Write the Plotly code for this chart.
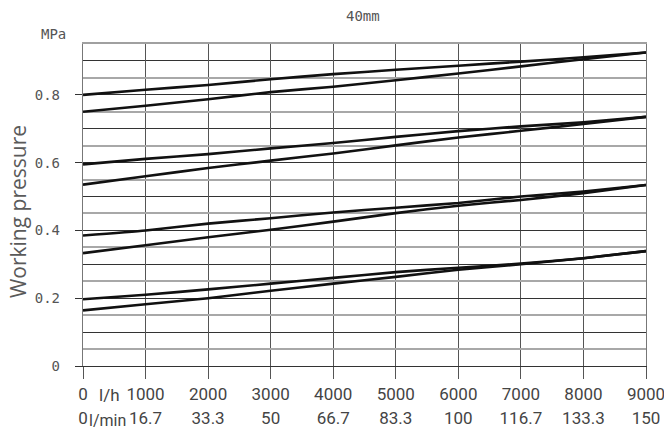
import plotly.graph_objects as go

# ---- data ----
flow_lh = [0, 1000, 2000, 3000, 4000, 5000, 6000, 7000, 8000, 9000]
flow_lh_text = ["0", "1000", "2000", "3000", "4000", "5000", "6000", "7000", "8000", "9000"]
flow_lmin_text = ["0", "16.7", "33.3", "50", "66.7", "83.3", "100", "116.7", "133.3", "150"]

p1_upper = [0.800, 0.815, 0.829, 0.846, 0.861, 0.874, 0.886, 0.898, 0.911, 0.925]
p1_lower = [0.750, 0.768, 0.787, 0.808, 0.824, 0.843, 0.863, 0.884, 0.905, 0.925]
p2_upper = [0.595, 0.611, 0.625, 0.642, 0.658, 0.676, 0.693, 0.707, 0.719, 0.735]
p2_lower = [0.535, 0.560, 0.584, 0.606, 0.627, 0.651, 0.674, 0.694, 0.714, 0.735]
p3_upper = [0.385, 0.400, 0.420, 0.436, 0.453, 0.467, 0.481, 0.500, 0.515, 0.534]
p3_lower = [0.333, 0.356, 0.380, 0.402, 0.426, 0.451, 0.473, 0.490, 0.510, 0.534]
p4_upper = [0.197, 0.210, 0.226, 0.243, 0.260, 0.277, 0.290, 0.302, 0.318, 0.339]
p4_lower = [0.164, 0.182, 0.200, 0.222, 0.243, 0.263, 0.284, 0.300, 0.318, 0.339]

y_major = [0, 0.2, 0.4, 0.6, 0.8]
y_major_text = ["0", "0.2", "0.4", "0.6", "0.8"]
y_half = [0.05, 0.15, 0.25, 0.35, 0.45, 0.55, 0.65, 0.75, 0.85]

series = [p1_upper, p1_lower, p2_upper, p2_lower, p3_upper, p3_lower, p4_upper, p4_lower]

fig = go.Figure()

# invisible traces to activate the overlay axes (half-step grid, top border, second label row)
fig.add_trace(go.Scatter(x=[0], y=[0], yaxis="y2", mode="markers",
                         marker=dict(opacity=0), showlegend=False, hoverinfo="skip"))
fig.add_trace(go.Scatter(x=[0], y=[0], xaxis="x2", mode="markers",
                         marker=dict(opacity=0), showlegend=False, hoverinfo="skip"))
fig.add_trace(go.Scatter(x=[0], y=[0], xaxis="x3", mode="markers",
                         marker=dict(opacity=0), showlegend=False, hoverinfo="skip"))

for s in series:
    fig.add_trace(go.Scatter(x=flow_lh, y=s, mode="lines",
                             line=dict(color="#111111", width=2.6, shape="spline", smoothing=0.5),
                             showlegend=False, hoverinfo="skip"))

label_font = dict(family="Roboto", size=17, color="#444444")
mono_font = dict(family="DejaVu Sans Mono", size=14, color="#555555")

fig.update_layout(
    width=664, height=430,
    margin=dict(l=83, r=18, t=44, b=64),
    paper_bgcolor="white", plot_bgcolor="white",
    xaxis=dict(range=[0, 9000], tickvals=flow_lh, ticktext=flow_lh_text,
               showgrid=True, gridcolor="#555555", gridwidth=1.3,
               ticks="outside", ticklen=12, tickcolor="#555555", tickwidth=1.3,
               tickfont=label_font, zeroline=False,
               showline=True, linecolor="#333333", linewidth=1.2,
               automargin=False, ticklabeloverflow="allow"),
    xaxis2=dict(range=[0, 9000], overlaying="x", side="top", showgrid=False,
                showticklabels=False, ticks="", zeroline=False,
                showline=True, linecolor="#a0a0a0", linewidth=2, automargin=False),
    xaxis3=dict(range=[0, 9000], overlaying="x", side="bottom", showgrid=False,
                tickvals=flow_lh, ticktext=flow_lmin_text, ticks="outside", ticklen=12,
                tickcolor="rgba(0,0,0,0)", tickfont=label_font, ticklabelstandoff=25,
                zeroline=False, showline=False, automargin=False,
                ticklabeloverflow="allow"),
    yaxis=dict(range=[0, 0.95], tickvals=y_major, ticktext=y_major_text,
               showgrid=True, gridcolor="#333333", gridwidth=1.2,
               ticks="outside", ticklen=7, tickcolor="#333333", tickwidth=1.2,
               tickfont=mono_font, zeroline=False,
               showline=True, mirror=True, linecolor="#777777", linewidth=1.3,
               ticklabelstandoff=12, automargin=False,
               minor=dict(dtick=0.1, tick0=0, showgrid=True, gridcolor="#333333",
                          gridwidth=1.2, ticks="")),
    yaxis2=dict(range=[0, 0.95], overlaying="y", side="left", tickvals=y_half,
                showgrid=True, gridcolor="#a8a8a8", gridwidth=2,
                showticklabels=False, ticks="", zeroline=False, showline=False,
                automargin=False),
)

fig.add_annotation(text="40mm", xref="paper", yref="paper", x=0.497, y=1, yshift=28,
                   showarrow=False, font=mono_font, xanchor="center", yanchor="middle")
fig.add_annotation(text="MPa", xref="paper", yref="paper", x=0, xshift=-30, y=1, yshift=10,
                   showarrow=False, font=mono_font, xanchor="center", yanchor="middle")
fig.add_annotation(text="Working pressure", xref="paper", yref="paper", x=0, xshift=-65,
                   y=0.478, textangle=-90, showarrow=False,
                   font=dict(family="Open Sans", size=21, color="#5a5a5a"),
                   xanchor="center", yanchor="middle")
fig.add_annotation(text="l/h", xref="x", yref="paper", x=430, y=0, yshift=-29,
                   showarrow=False, font=label_font, xanchor="center", yanchor="middle")
fig.add_annotation(text="l/min", xref="x", yref="paper", x=385, y=0, yshift=-54,
                   showarrow=False, font=dict(family="Roboto", size=16, color="#444444"),
                   xanchor="center", yanchor="middle")

fig.write_html("out.html", config={"displayModeBar": False},
               post_script="document.body.style.margin='0';document.body.style.padding='0';")
